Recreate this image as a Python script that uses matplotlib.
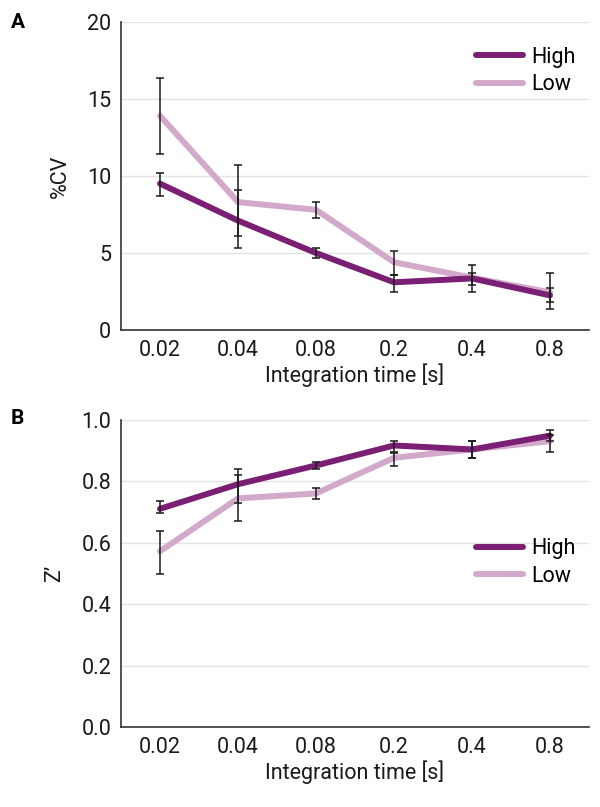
import numpy as np
import matplotlib.pyplot as plt

plt.rcParams['font.family'] = ['Roboto', 'DejaVu Sans']

times = ['0.02', '0.04', '0.08', '0.2', '0.4', '0.8']

# panel A: %CV
cv_high = [9.5, 7.1, 5.0, 3.1, 3.35, 2.25]
cv_high_lo = [8.7, 6.1, 4.7, 2.5, 2.9, 1.8]
cv_high_hi = [10.2, 9.1, 5.35, 3.55, 3.7, 2.7]
cv_low = [13.9, 8.3, 7.8, 4.4, 3.4, 2.45]
cv_low_lo = [11.4, 5.35, 7.3, 3.55, 2.5, 1.35]
cv_low_hi = [16.35, 10.7, 8.3, 5.1, 4.2, 3.7]

# panel B: Z'
z_high = [0.71, 0.79, 0.851, 0.916, 0.903, 0.948]
z_high_lo = [0.695, 0.729, 0.84, 0.895, 0.876, 0.93]
z_high_hi = [0.736, 0.841, 0.862, 0.932, 0.93, 0.966]
z_low = [0.572, 0.744, 0.76, 0.876, 0.903, 0.930]
z_low_lo = [0.498, 0.671, 0.742, 0.85, 0.876, 0.894]
z_low_hi = [0.639, 0.82, 0.779, 0.893, 0.93, 0.95]

dark = '#7a1f73'
light = '#d2a8cb'
fs = 15.5


def panel(ax, high, hlo, hhi, low, llo, lhi, yticks, ylabel, fmt, legend_y):
	x = np.arange(len(times))
	ax.plot(x, high, color=dark, lw=4.3, solid_capstyle='round', label='High', zorder=3)
	ax.plot(x, low, color=light, lw=4.3, solid_capstyle='round', label='Low', zorder=2)
	for y, lo, hi in [(high, hlo, hhi), (low, llo, lhi)]:
		y = np.array(y)
		err = [y - np.array(lo), np.array(hi) - y]
		ax.errorbar(x, y, yerr=err, fmt='none', ecolor='#1a1a1a', elinewidth=1.1,
					capsize=3, capthick=1.1, zorder=4)
	ax.set_xlim(-0.5, 5.5)
	ax.set_ylim(yticks[0], yticks[-1])
	ax.set_yticks(yticks)
	ax.set_yticklabels([fmt.format(v) for v in yticks])
	ax.set_xticks(x)
	ax.set_xticklabels(times)
	ax.tick_params(length=0, labelsize=fs, colors='#1a1a1a', pad=7)
	ax.yaxis.grid(True, color='#e3e3e3', lw=1)
	ax.set_axisbelow(True)
	for s in ['top', 'right']:
		ax.spines[s].set_visible(False)
	for s in ['left', 'bottom']:
		ax.spines[s].set_color('#333333')
		ax.spines[s].set_linewidth(1.2)
	ax.set_xlabel('Integration time [s]', fontsize=fs, color='#1a1a1a', labelpad=2)
	ax.set_ylabel(ylabel, fontsize=fs, color='#1a1a1a', labelpad=12)
	ax.legend(loc='center right', bbox_to_anchor=(1.0, legend_y), frameon=False,
			  fontsize=fs, handlelength=2.2, handletextpad=0.4, labelspacing=0.3,
			  borderaxespad=0.2)


fig = plt.figure(figsize=(6, 8.07), dpi=100)
ax1 = fig.add_axes([0.2017, 0.591, 0.78, 0.382])
ax2 = fig.add_axes([0.2017, 0.099, 0.78, 0.381])

panel(ax1, cv_high, cv_high_lo, cv_high_hi, cv_low, cv_low_lo, cv_low_hi,
	  [0, 5, 10, 15, 20], '%CV', '{:g}', 0.84)
panel(ax2, z_high, z_high_lo, z_high_hi, z_low, z_low_lo, z_low_hi,
	  [0.0, 0.2, 0.4, 0.6, 0.8, 1.0], 'Z’', '{:.1f}', 0.535)

fig.text(0.018, 0.972, 'A', fontsize=15, fontweight='bold', va='center')
fig.text(0.018, 0.481, 'B', fontsize=15, fontweight='bold', va='center')

fig.savefig('out.png', dpi=100)
